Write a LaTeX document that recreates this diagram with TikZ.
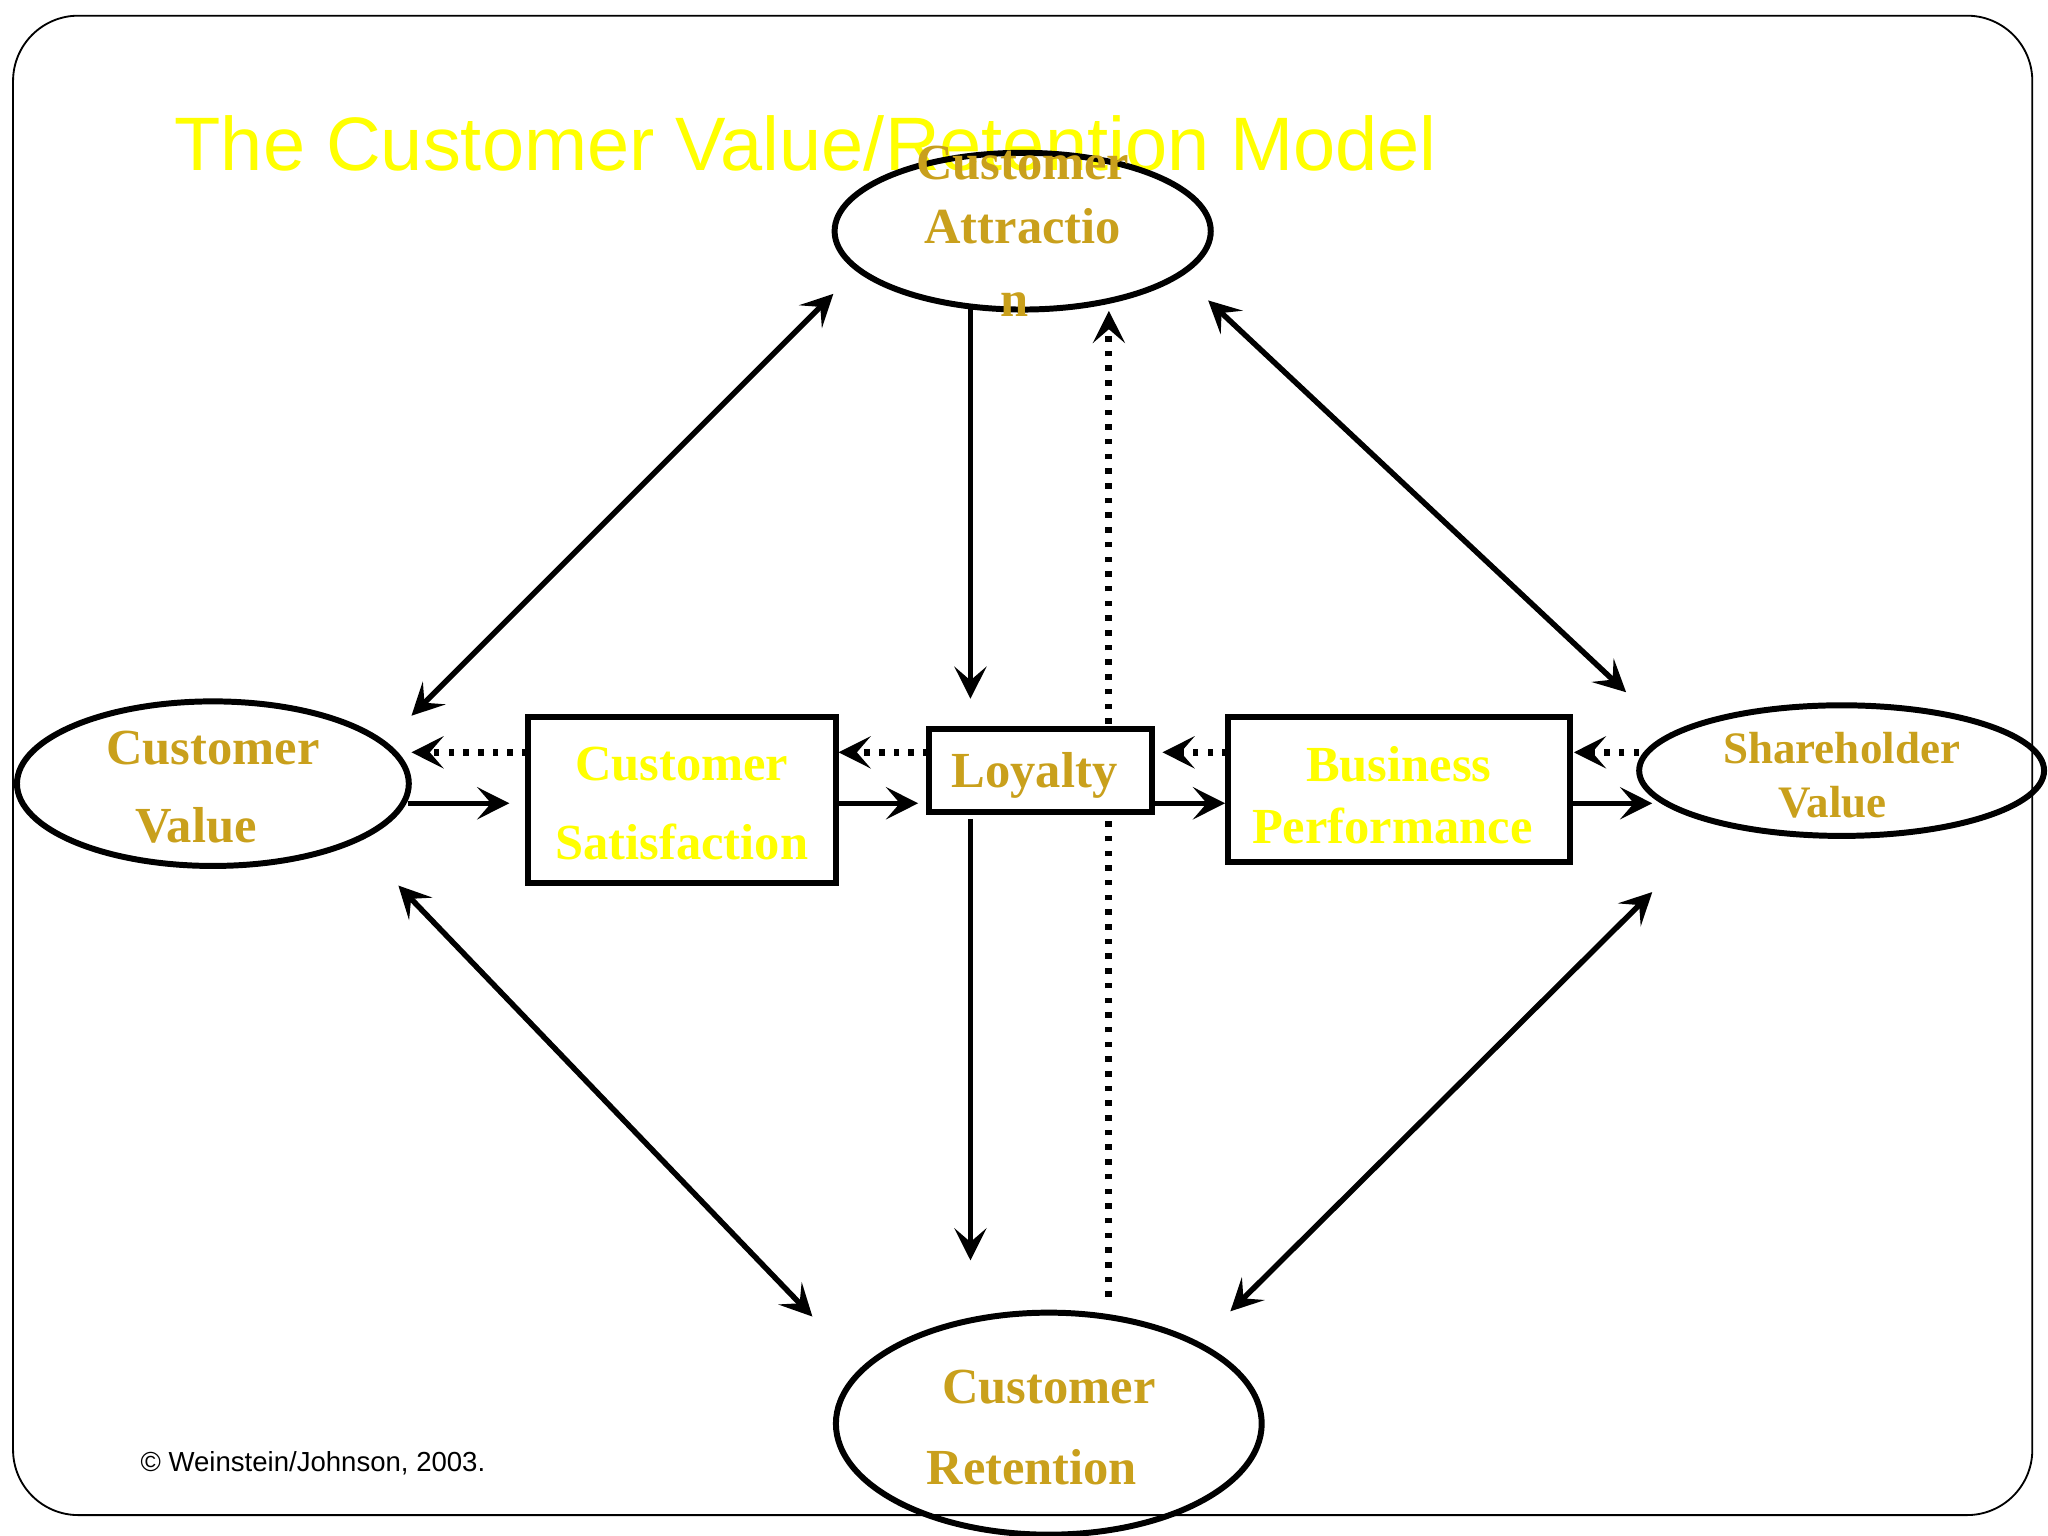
\documentclass[tikz,border=0pt]{standalone}
\usepackage{fontspec}
\setmainfont{Liberation Serif}
\newfontfamily\sansf{Liberation Sans}
\usetikzlibrary{arrows.meta}
\definecolor{gold}{HTML}{C9A01C}
\definecolor{yel}{HTML}{FFFF00}
\begin{document}
\begin{tikzpicture}[x=0.01cm,y=-0.01cm,
  line/.style={line width=1.2pt},
  arr/.style={line,-{Stealth[length=7pt,width=7pt,inset=3pt]}},
  darr/.style={line,{Stealth[length=7pt,width=7pt,inset=3pt]}-{Stealth[length=7pt,width=7pt,inset=3pt]}},
  dot/.style={arr,dotted,line width=1.5pt},
  box/.style={draw,fill=white,line width=1.3pt},
  lbl/.style={font=\fontsize{11}{12}\selectfont\bfseries,inner sep=0},
]
\useasboundingbox (0,0) rectangle (1568,1176);
\draw[line width=0.4pt,rounded corners=0.5cm] (10,12) rectangle (1556,1160);
\node[anchor=west,text=yel,font=\sansf\fontsize{16.5}{18}\selectfont,inner sep=0] (title) at (133,110) {The Customer Value/Retention Model};

% connector end points
\foreach \n/\x/\y in {a1/638/225,a2/315/548,b1/925/230,b2/1245/530,c1/305/678,c2/622/1008,
  d1/1265/683,d2/942/1004,e1/743/235,e2/743/535,f1/743/627,f2/743/965,g1/849/993,g2/849/238,
  h1/312/615,h2/390/615,i1/640/615,i2/703/615,j1/882/615,j2/938/615,k1/1202/615,k2/1265/615,
  l1/404/576,l2/315/576,m1/711/576,m2/642/576,n1/940/576,n2/890/576,o1/1255/576,o2/1205/576}
  \coordinate (\n) at (\x,\y);

\draw[dot] (g1) -- (g2);

% ellipses
\draw[line width=1.3pt] (783,177) ellipse [x radius=144,y radius=60];
\coordinate (ca) at (783,177);
\node[lbl,text=gold] at (783,125) {Customer};
\node[lbl,text=gold] at (783,173) {Attractio};
\node[lbl,text=gold] at (777,233) {n};

\draw[line width=1.3pt] (163,600) ellipse [x radius=150,y radius=63];
\coordinate (cv) at (163,600);
\node[lbl,text=gold] at (163,573) {Customer};
\node[lbl,text=gold] at (150,632) {Value};

\draw[line width=1.3pt] (1410,590) ellipse [x radius=155,y radius=50];
\coordinate (sv) at (1410,590);
\node[lbl,text=gold,font=\fontsize{9.8}{12}\selectfont\bfseries] at (1410,573) {Shareholder};
\node[lbl,text=gold,font=\fontsize{9.8}{12}\selectfont\bfseries] at (1403,614) {Value};

\draw[line width=1.3pt] (803,1090) ellipse [x radius=163,y radius=85];
\coordinate (cr) at (803,1090);
\node[lbl,text=gold] at (803,1062) {Customer};
\node[lbl,text=gold] at (790,1123) {Retention};

% boxes
\draw[box] (404,549) rectangle (640,676);
\node[lbl,text=yel] (cs1) at (522,585) {Customer};
\node[lbl,text=yel] (cs2) at (522,645) {Satisfaction};
\draw[box] (711,558) rectangle (882,622);
\node[lbl,text=gold] (loy) at (792,594) {Loyalty};
\draw[box] (940,549) rectangle (1202,660);
\node[lbl,text=yel] (bp1) at (1071,585) {Business};
\node[lbl,text=yel] (bp2) at (1066,632) {Performance};

\node[anchor=west,font=\sansf\fontsize{6}{7}\selectfont,inner sep=0] (copy) at (107,1120) {© Weinstein/Johnson, 2003.};

\draw[darr] (a1) -- (a2);
\draw[darr] (b1) -- (b2);
\draw[darr] (c1) -- (c2);
\draw[darr] (d1) -- (d2);
\draw[arr] (e1) -- (e2);
\draw[arr] (f1) -- (f2);
\foreach \s/\t in {h1/h2,i1/i2,j1/j2,k1/k2} \draw[arr] (\s) -- (\t);
\foreach \s/\t in {l1/l2,m1/m2,n1/n2,o1/o2} \draw[dot] (\s) -- (\t);
\end{tikzpicture}
\end{document}
